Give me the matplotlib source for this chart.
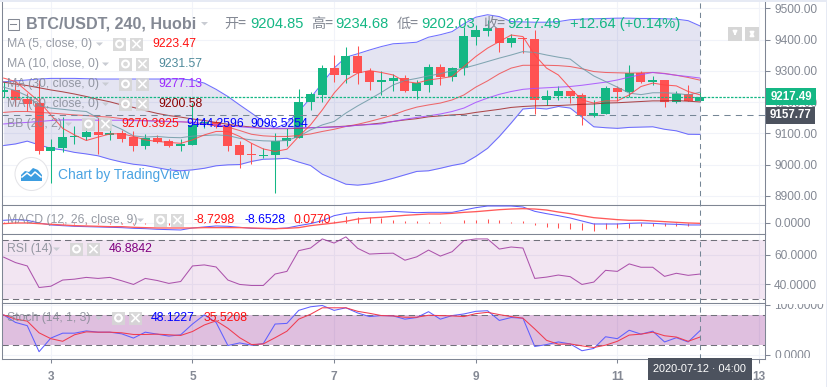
import numpy as np
import matplotlib
matplotlib.use('Agg')
import matplotlib.pyplot as plt
from matplotlib.patches import Rectangle, Circle, Polygon

W, H = 828, 387

# one value per 4h candle, first candle is 4 bars before the "3" tick
opens = [9231, 9239, 9210, 9197, 9044, 9054, 9087, 9088, 9105, 9095, 9100, 9088, 9058, 9084, 9075, 9058,
         9064, 9130, 9137, 9127, 9063, 9034, 9026, 9029, 9074, 9086, 9199, 9224, 9310, 9288, 9348, 9299,
         9263, 9269, 9278, 9237, 9256, 9312, 9281, 9308, 9410, 9429, 9438, 9388, 9406, 9402, 9208, 9219,
         9235, 9223, 9154, 9163, 9246, 9234, 9292, 9265, 9271, 9202, 9225, 9204.85]
highs = [9266, 9266, 9229, 9271, 9081, 9152, 9122, 9122, 9149, 9116, 9111, 9106, 9097, 9095, 9081, 9081,
         9197, 9149, 9143, 9138, 9077, 9068, 9052, 9100, 9116, 9241, 9231, 9319, 9351, 9378, 9380, 9309,
         9300, 9291, 9287, 9271, 9323, 9323, 9314, 9442, 9448, 9464, 9438, 9419, 9408, 9432, 9239, 9252,
         9235, 9229, 9207, 9252, 9252, 9319, 9301, 9284, 9271, 9236, 9255, 9234.68]
lows = [9218, 9186, 9173, 9034, 8942, 9039, 9066, 9079, 9034, 9079, 9071, 9045, 9049, 9068, 9055, 9045,
        9064, 9116, 9116, 9045, 8990, 9002, 9022, 8910, 9060, 9086, 9175, 9199, 9266, 9261, 9259, 9239,
        9223, 9237, 9234, 9209, 9234, 9255, 9269, 9287, 9383, 9412, 9362, 9378, 9357, 9162, 9190, 9207,
        9197, 9127, 9152, 9163, 9205, 9218, 9261, 9255, 9183, 9198, 9203, 9202.03]
closes = [9239, 9207, 9194, 9044, 9056, 9088, 9092, 9105, 9096, 9102, 9083, 9058, 9084, 9073, 9058, 9066,
          9127, 9136, 9124, 9061, 9032, 9029, 9030, 9076, 9086, 9201, 9227, 9310, 9288, 9348, 9294, 9263,
          9271, 9277, 9237, 9260, 9312, 9282, 9309, 9412, 9432, 9439, 9388, 9407, 9401, 9208, 9220, 9236,
          9220, 9154, 9165, 9246, 9234, 9292, 9265, 9271, 9202, 9227, 9203, 9217.49]

bb_upper = [9265, 9268, 9271, 9274, 9276, 9276, 9276, 9275, 9274, 9274, 9274, 9274, 9274, 9274, 9274, 9274,
            9271, 9261, 9241, 9218, 9191, 9165, 9138, 9116, 9132, 9170, 9213, 9261, 9309, 9344, 9355, 9367,
            9378, 9387, 9389, 9392, 9408, 9416, 9426, 9451, 9472, 9480, 9474, 9458, 9457, 9456, 9456, 9458,
            9464, 9466, 9467, 9468, 9469, 9469, 9468, 9468, 9467, 9466, 9461, 9444.26]
bb_lower = [9061, 9066, 9075, 9063, 9052, 9047, 9039, 9034, 9028, 9017, 9008, 9001, 8997, 8990, 8983, 8980,
            8983, 8988, 8996, 8999, 9000, 9010, 9017, 9018, 9020, 9008, 8997, 8969, 8953, 8937, 8934, 8938,
            8946, 8956, 8967, 8978, 8980, 8988, 8997, 9004, 9026, 9052, 9090, 9133, 9178, 9181, 9178, 9186,
            9181, 9152, 9121, 9118, 9116, 9119, 9120, 9121, 9113, 9108, 9097, 9096.53]
bb_basis = [9167, 9170, 9170, 9167, 9165, 9162, 9159, 9157, 9154, 9152, 9147, 9143, 9141, 9140, 9138, 9137,
            9135, 9130, 9124, 9120, 9109, 9097, 9092, 9090, 9090, 9093, 9098, 9106, 9113, 9122, 9129, 9138,
            9148, 9159, 9173, 9184, 9191, 9197, 9207, 9223, 9248, 9268, 9291, 9309, 9318, 9318, 9318, 9317,
            9314, 9307, 9298, 9295, 9294, 9293, 9294, 9295, 9292, 9286, 9279, 9270.39]
ma5 = [9277, 9266, 9234, 9202, 9159, 9116, 9095, 9077, 9088, 9098, 9099, 9090, 9079, 9074, 9071, 9068,
       9079, 9095, 9106, 9106, 9090, 9068, 9050, 9042, 9049, 9090, 9127, 9175, 9229, 9271, 9293, 9301,
       9295, 9287, 9266, 9261, 9271, 9276, 9282, 9314, 9346, 9373, 9394, 9415, 9410, 9351, 9309, 9287,
       9245, 9207, 9197, 9204, 9204, 9223, 9250, 9261, 9255, 9252, 9234, 9223.47]
ma10 = [9248, 9237, 9220, 9188, 9181, 9177, 9173, 9170, 9149, 9130, 9113, 9092, 9088, 9090, 9087, 9086,
        9091, 9093, 9095, 9093, 9084, 9079, 9076, 9075, 9077, 9090, 9111, 9127, 9138, 9165, 9188, 9209,
        9231, 9255, 9269, 9276, 9284, 9291, 9301, 9309, 9319, 9330, 9341, 9351, 9362, 9359, 9351, 9344,
        9338, 9309, 9284, 9266, 9248, 9229, 9224, 9230, 9230, 9228, 9223, 9231.57]
ma30 = [9130, 9133, 9135, 9138, 9141, 9143, 9143, 9143, 9142, 9142, 9142, 9141, 9140, 9139, 9138, 9137,
        9135, 9130, 9127, 9124, 9121, 9118, 9116, 9116, 9116, 9118, 9118, 9119, 9120, 9122, 9126, 9128,
        9130, 9138, 9145, 9151, 9156, 9162, 9170, 9181, 9199, 9213, 9225, 9234, 9241, 9244, 9246, 9248,
        9250, 9254, 9259, 9264, 9271, 9280, 9288, 9295, 9291, 9286, 9282, 9277.13]
ma60 = [9264, 9258, 9253, 9246, 9239, 9233, 9226, 9218, 9209, 9201, 9191, 9183, 9173, 9164, 9157, 9152,
        9146, 9141, 9135, 9129, 9124, 9120, 9116, 9115, 9115, 9116, 9118, 9119, 9121, 9123, 9126, 9129,
        9133, 9138, 9143, 9147, 9153, 9156, 9159, 9161, 9167, 9172, 9177, 9183, 9186, 9188, 9189, 9189,
        9191, 9193, 9194, 9197, 9198, 9200, 9202, 9204, 9204, 9205, 9203, 9200.58]

macd = [9.4, 11.7, 9.4, 0, -7, -9.4, -11.7, -12.9, -14, -15.2, -16.4, -18.7, -19.9, -22.2, -23.4, -24.6,
        -17.6, -14, -10.5, -11.7, -15.2, -18.7, -19.9, -19.9, -17.6, -9.4, -2.3, 8.2, 25.7, 33.9, 37.4, 37.4,
        38.6, 41, 38.6, 36.3, 37.4, 37.4, 37.4, 45.6, 53.8, 59.7, 59.7, 59.7, 56.2, 41, 32.8, 25.7,
        17.6, 7, -3.5, -3.5, -3.5, -1.2, 0, -1.2, -3.5, -4.7, -7, -7]
signal = [-2.3, 0, 0, -2.3, -4.7, -7, -9.4, -10.5, -11.7, -12.9, -12.9, -15.2, -16.4, -17.6, -17.6, -17.6,
          -17.6, -16.4, -16.4, -16.4, -16.4, -17.6, -18.7, -19.9, -18.7, -16.4, -9.4, -4.7, 0, 5.9, 14, 17.6,
          19.9, 23.4, 26.9, 29.3, 31.6, 31.6, 33.9, 37.4, 39.8, 43.3, 46.8, 49.1, 50.3, 49.1, 45.6, 38.6,
          32.8, 25.7, 18.7, 15.2, 11.7, 9.4, 9.4, 7, 4.7, 2.3, 0, -1.2]
hist = [5, 6, 5, 3, -2, -2, -2, -2, -2, -2, -3, -4, -4, -5, -6, -6,
        -1, 2, 5, 4, 1, -1, -1, 0, 1, 7, 7, 13, 6, 26, 21, 21,
        16, 12, 6, 6, 3, 2, 1, 9, 12, 14, 9, 5, 6, -7, -14, -16,
        -21, -24, -27, -21, -16, -16, -12, -9, -9, -9, -9, -7]
rsi = [58.4, 54.7, 52.4, 37.7, 38.6, 42.8, 43.4, 44.6, 43.9, 44.6, 42.3, 39.8, 43.9, 42.5, 40.5, 41.8,
       52.4, 53.1, 51.7, 42.8, 39.8, 39.1, 39.1, 46.9, 48.7, 62.8, 64.6, 70.8, 68, 72.2, 64.4, 60.5,
       60.9, 61.1, 56.3, 58.6, 63.2, 59.1, 62.1, 69.7, 70.8, 70.8, 63.9, 65.3, 64.6, 43.9, 44.8, 46.2,
       45.1, 39.8, 41.4, 49.4, 48.7, 53.8, 51.5, 51.5, 45.3, 47.4, 46, 46.88]
stoch_k = [79.4, 64.5, 58.1, 6.5, 33.5, 43.2, 43.2, 47.7, 45.2, 45.2, 41.9, 33.5, 45.2, 41.3, 37.4, 40,
           61.3, 79.4, 64.5, 18.7, 23.9, 19.4, 22.6, 61.3, 62.6, 88.4, 95.5, 98.1, 88.4, 93.5, 83.2, 76.1,
           78.1, 77.4, 71, 74.2, 85.8, 71, 78.1, 81.3, 86.5, 87.7, 68.4, 74.2, 72.9, 16.8, 20.6, 25.8,
           21.9, 8.4, 12.9, 36.1, 32.3, 49, 41.3, 47.1, 25.8, 34.2, 25.8, 48.12]
stoch_d = [79.4, 71, 67.1, 43.9, 32.3, 27.1, 40, 45.8, 45.2, 45.2, 43.9, 40.6, 40.6, 41.3, 40, 38.7,
           46.5, 59.4, 67.7, 52.9, 34.2, 20.6, 21.9, 34.2, 47.1, 71, 80.6, 93.5, 93.5, 93.5, 86.5, 82.6,
           78.1, 77.4, 74.8, 74.8, 78.7, 78.1, 77.4, 76.1, 81.9, 84.5, 80, 76.1, 72.9, 51.6, 29, 21.3,
           21.9, 18.1, 14.8, 19.4, 27.1, 39.4, 41.3, 45.2, 38.1, 35.5, 27.1, 35.52]

GREEN = '#14b784'
RED = '#ff5252'
GRAY = '#848994'
AXIS = '#7f8694'
GRID = '#f1f3f9'
BLUE = '#5f5fff'
PLUM = '#800080'
CROSS = '#758696'
LW = 0.75

# day of month for every candle, ticks sit on whole days
days = 3 + (np.arange(len(closes)) - 4) / 6
xlim = (2.31, 13.085)

plt.rcParams['font.family'] = ['Liberation Sans', 'DejaVu Sans']
fig = plt.figure(figsize=(W / 100, H / 100), dpi=100, facecolor='white')


def panel(top, bottom, ylim, yticks, fmt):
    ax = fig.add_axes([2 / W, 1 - bottom / H, 763 / W, (bottom - top) / H])
    ax.set_xlim(*xlim)
    ax.set_ylim(*ylim)
    ax.set_xticks([3, 5, 7, 9, 11, 13])
    ax.set_yticks(yticks)
    ax.set_yticklabels([fmt % v for v in yticks])
    ax.yaxis.tick_right()
    ax.grid(color=GRID, lw=LW)
    ax.set_axisbelow(True)
    ax.tick_params(axis='y', length=3.5, width=LW, color=AXIS, labelcolor=GRAY, labelsize=8.6, pad=3)
    ax.tick_params(axis='x', length=0, labelbottom=False)
    for s in ax.spines.values():
        s.set_color(AXIS)
        s.set_linewidth(LW)
    return ax


ax = panel(1, 204.5, (8872, 9524), [8900, 9000, 9100, 9200, 9300, 9400, 9500], '%.2f')
ax.spines['top'].set_visible(False)
ax_macd = panel(204.5, 233.5, (-37, 65), [0], '%.4f')
ax_rsi = panel(233.5, 302.5, (27.5, 74.5), [40, 60], '%.4f')
ax_st = panel(302.5, 358.5, (-7, 104), [0, 100], '%.4f')
ax_st.tick_params(axis='x', length=3, width=LW, color=AXIS, labelbottom=True, labelcolor=GRAY, labelsize=8.6, pad=6)
ax_st.set_xticklabels(['3', '5', '7', '9', '11', '13'], fontweight='bold')

# main pane
ax.fill_between(days, bb_lower, bb_upper, color='#21219b', alpha=0.12, lw=0, zorder=1)
ax.plot(days, bb_upper, color=BLUE, lw=LW, alpha=0.9, zorder=2)
ax.plot(days, bb_lower, color=BLUE, lw=LW, alpha=0.9, zorder=2)
for i in range(len(closes)):
    col = GREEN if closes[i] >= opens[i] else RED
    ax.vlines(days[i], lows[i], highs[i], color=col, lw=LW, zorder=3)
    ax.bar(days[i], abs(closes[i] - opens[i]), bottom=min(opens[i], closes[i]),
           width=0.127, color=col, lw=0, zorder=3)
ax.plot(days, bb_basis, color='#f04848', lw=LW, alpha=0.8, zorder=4)
ax.plot(days, ma60, color='#a02020', lw=LW, alpha=0.8, zorder=4)
ax.plot(days, ma30, color='#a64dff', lw=LW, alpha=0.85, zorder=4)
ax.plot(days, ma10, color='#6f9aa6', lw=LW, alpha=0.85, zorder=4)
ax.plot(days, ma5, color='#ff4545', lw=LW, alpha=0.85, zorder=4)
ax.axhline(9217.49, color=GREEN, lw=0.9, ls=(0, (2, 1.1)), zorder=5)
ax.axhline(9157.77, color=CROSS, lw=LW, ls=(0, (6, 5)), zorder=5)

# macd pane
ax_macd.vlines(days, 0, hist, color=RED, lw=LW, zorder=2)
ax_macd.plot(days, macd, color=BLUE, lw=LW, zorder=3)
ax_macd.plot(days, signal, color='#ff5a5a', lw=0.95, zorder=3)

# rsi pane
ax_rsi.axhspan(30, 70, color=PLUM, alpha=0.1, lw=0)
ax_rsi.axhline(70, color='#70707a', lw=LW, ls=(0, (6, 4)))
ax_rsi.axhline(30, color='#70707a', lw=LW, ls=(0, (6, 4)))
ax_rsi.plot(days, rsi, color='#a03aa0', lw=LW, alpha=0.85)

# stoch pane
ax_st.axhspan(20, 80, color=PLUM, alpha=0.25, lw=0)
ax_st.axhline(80, color='#70707a', lw=LW, ls=(0, (6, 4)))
ax_st.axhline(20, color='#70707a', lw=LW, ls=(0, (6, 4)))
ax_st.plot(days, stoch_k, color=BLUE, lw=LW)
ax_st.plot(days, stoch_d, color='#f03c50', lw=LW)

for a in (ax, ax_macd, ax_rsi, ax_st):
    a.axvline(days[-1], color=CROSS, lw=LW, ls=(0, (5, 4)), zorder=6)

# overlay in pixel coordinates for header, legend and price tags
ov = fig.add_axes([0, 0, 1, 1], zorder=10)
ov.set_xlim(0, W)
ov.set_ylim(H, 0)
ov.axis('off')
ov.patch.set_alpha(0)


def txt(x, y, s, color=GRAY, size=8.6, **kw):
    ov.text(x, y, s, color=color, fontsize=size, va='center', ha=kw.pop('ha', 'left'), **kw)


def caret(x, y):
    ov.add_patch(Polygon([[x, y - 1.5], [x + 7, y - 1.5], [x + 3.5, y + 2]], color='#c9ccd3', lw=0))


def buttons(x1, x2, y, size=13):
    ov.add_patch(Rectangle((x1, y - size / 2), size, size, color='#d6d6d6', lw=0, alpha=0.9))
    ov.add_patch(Circle((x1 + size / 2, y), 3.4, fc='none', ec='white', lw=1.5))
    ov.add_patch(Rectangle((x2, y - size / 2), size, size, color='#d6d6d6', lw=0, alpha=0.9))
    ov.plot([x2 + 3, x2 + size - 3], [y - 3.5, y + 3.5], color='white', lw=1.2)
    ov.plot([x2 + 3, x2 + size - 3], [y + 3.5, y - 3.5], color='white', lw=1.2)


# header
ov.add_patch(Rectangle((8, 18.5), 11, 11, fc='none', ec=GRAY, lw=LW))
ov.plot([10.5, 16.5], [24, 24], color=GRAY, lw=LW)
txt(26, 24, 'BTC/USDT, 240, Huobi', size=11.6, fontweight='bold')
caret(201, 23.5)
cjk = ['Noto Sans CJK SC', 'DejaVu Sans']
for x, s in [(224, '开='), (311, '高='), (397, '低='), (483, '收=')]:
    txt(x, 24, s, size=10.2, family=cjk)
for x, s in [(250, '9204.85'), (335, '9234.68'), (421, '9202.03'), (507, '9217.49'), (570, '+12.64 (+0.14%)')]:
    txt(x, 24, s, color=GREEN, size=10.6)

# legend rows
rows = [(44, 'MA (5, close, 0)', 96, 113, 130, [(152, '9223.47', '#ff1010')]),
        (64, 'MA (10, close, 0)', 102, 119, 136, [(158, '9231.57', '#4f8a9b')]),
        (84, 'MA (30, close, 0)', 102, 119, 136, [(158, '9277.13', '#9c27ff')]),
        (104, 'MA (60, close, 0)', 102, 119, 136, [(158, '9200.58', '#8b0000')]),
        (124, 'BB (20, 2)', 65, 82, 99, [(121, '9270.3925', '#ff1010'), (186, '9444.2596', '#0000ff'),
                                         (250, '9096.5254', '#0000ff')]),
        (220, 'MACD (12, 26, close, 9)', 137, 154, 171, [(194, '-8.7298', '#ff1010'), (245, '-8.6528', '#0000ff'),
                                                         (294, '0.0770', '#ff1010')]),
        (249, 'RSI (14)', 53, 70, 87, [(109, '46.8842', PLUM)]),
        (318, 'Stoch (14, 1, 3)', 95, 112, 129, [(151, '48.1227', '#0000ff'), (204, '35.5208', '#ff1010')])]
for y, name, cx, b1, b2, vals in rows:
    txt(7, y, name, size=8.8, alpha=0.85)
    caret(cx, y)
    buttons(b1, b2, y)
    for x, s, c in vals:
        txt(x, y, s, color=c, size=8.8)

# watermark
ov.add_patch(Circle((31.5, 174), 16.5, fc='white', ec='#e4e4e8', lw=LW))
ov.add_patch(Polygon([[21, 181], [21, 175], [25, 171], [29, 172], [33, 168], [38, 170], [42, 175], [42, 181]],
                     color='#3d9de0', lw=0))
ov.plot([22, 27, 31, 35, 41], [177, 173, 176, 172, 177], color='white', lw=1.1)
txt(58, 174.5, 'Chart by TradingView', color='#4aa3e2', size=9.9)

# price tags on the axis
ov.add_patch(Rectangle((766, 88), 50, 17, color=GREEN, lw=0))
txt(791, 96.5, '9217.49', color='white', size=8.3, ha='center', fontweight='bold')
ov.add_patch(Rectangle((766, 107), 49, 16.5, color='#4c525e', lw=0))
txt(790.5, 115.5, '9157.77', color='white', size=8.3, ha='center', fontweight='bold')

# arrows top right
for x0 in (728, 745):
    ov.add_patch(Rectangle((x0, 27), 14, 14, color='#d6d6d6', lw=0))
ov.annotate('', (735, 38.5), (735, 29.5), arrowprops=dict(arrowstyle='-|>', color='white', lw=1.2, mutation_scale=6))
ov.annotate('', (752, 28.5), (752, 39.5), arrowprops=dict(arrowstyle='<|-|>', color='white', lw=1.2, mutation_scale=6))

# tick labels of the stoch scale are cut by the pane edges
ov.add_patch(Rectangle((767, 297), 59, 6.5, color='white', lw=0))
ov.add_patch(Rectangle((767, 358), 59, 5, color='white', lw=0))

# date tag
ov.add_patch(Rectangle((648, 358), 104, 22, color='#4c525e', lw=0))
txt(700, 369, '2020-07-12 · 04:00', color='white', size=7.9, ha='center')

# page edges
ov.add_patch(Rectangle((0, 0), W, 1.5, color='#e6eaf4', lw=0))
ov.add_patch(Rectangle((W - 2, 0), 2, H, color='#e6eaf4', lw=0))

fig.savefig('out.png', dpi=100)
